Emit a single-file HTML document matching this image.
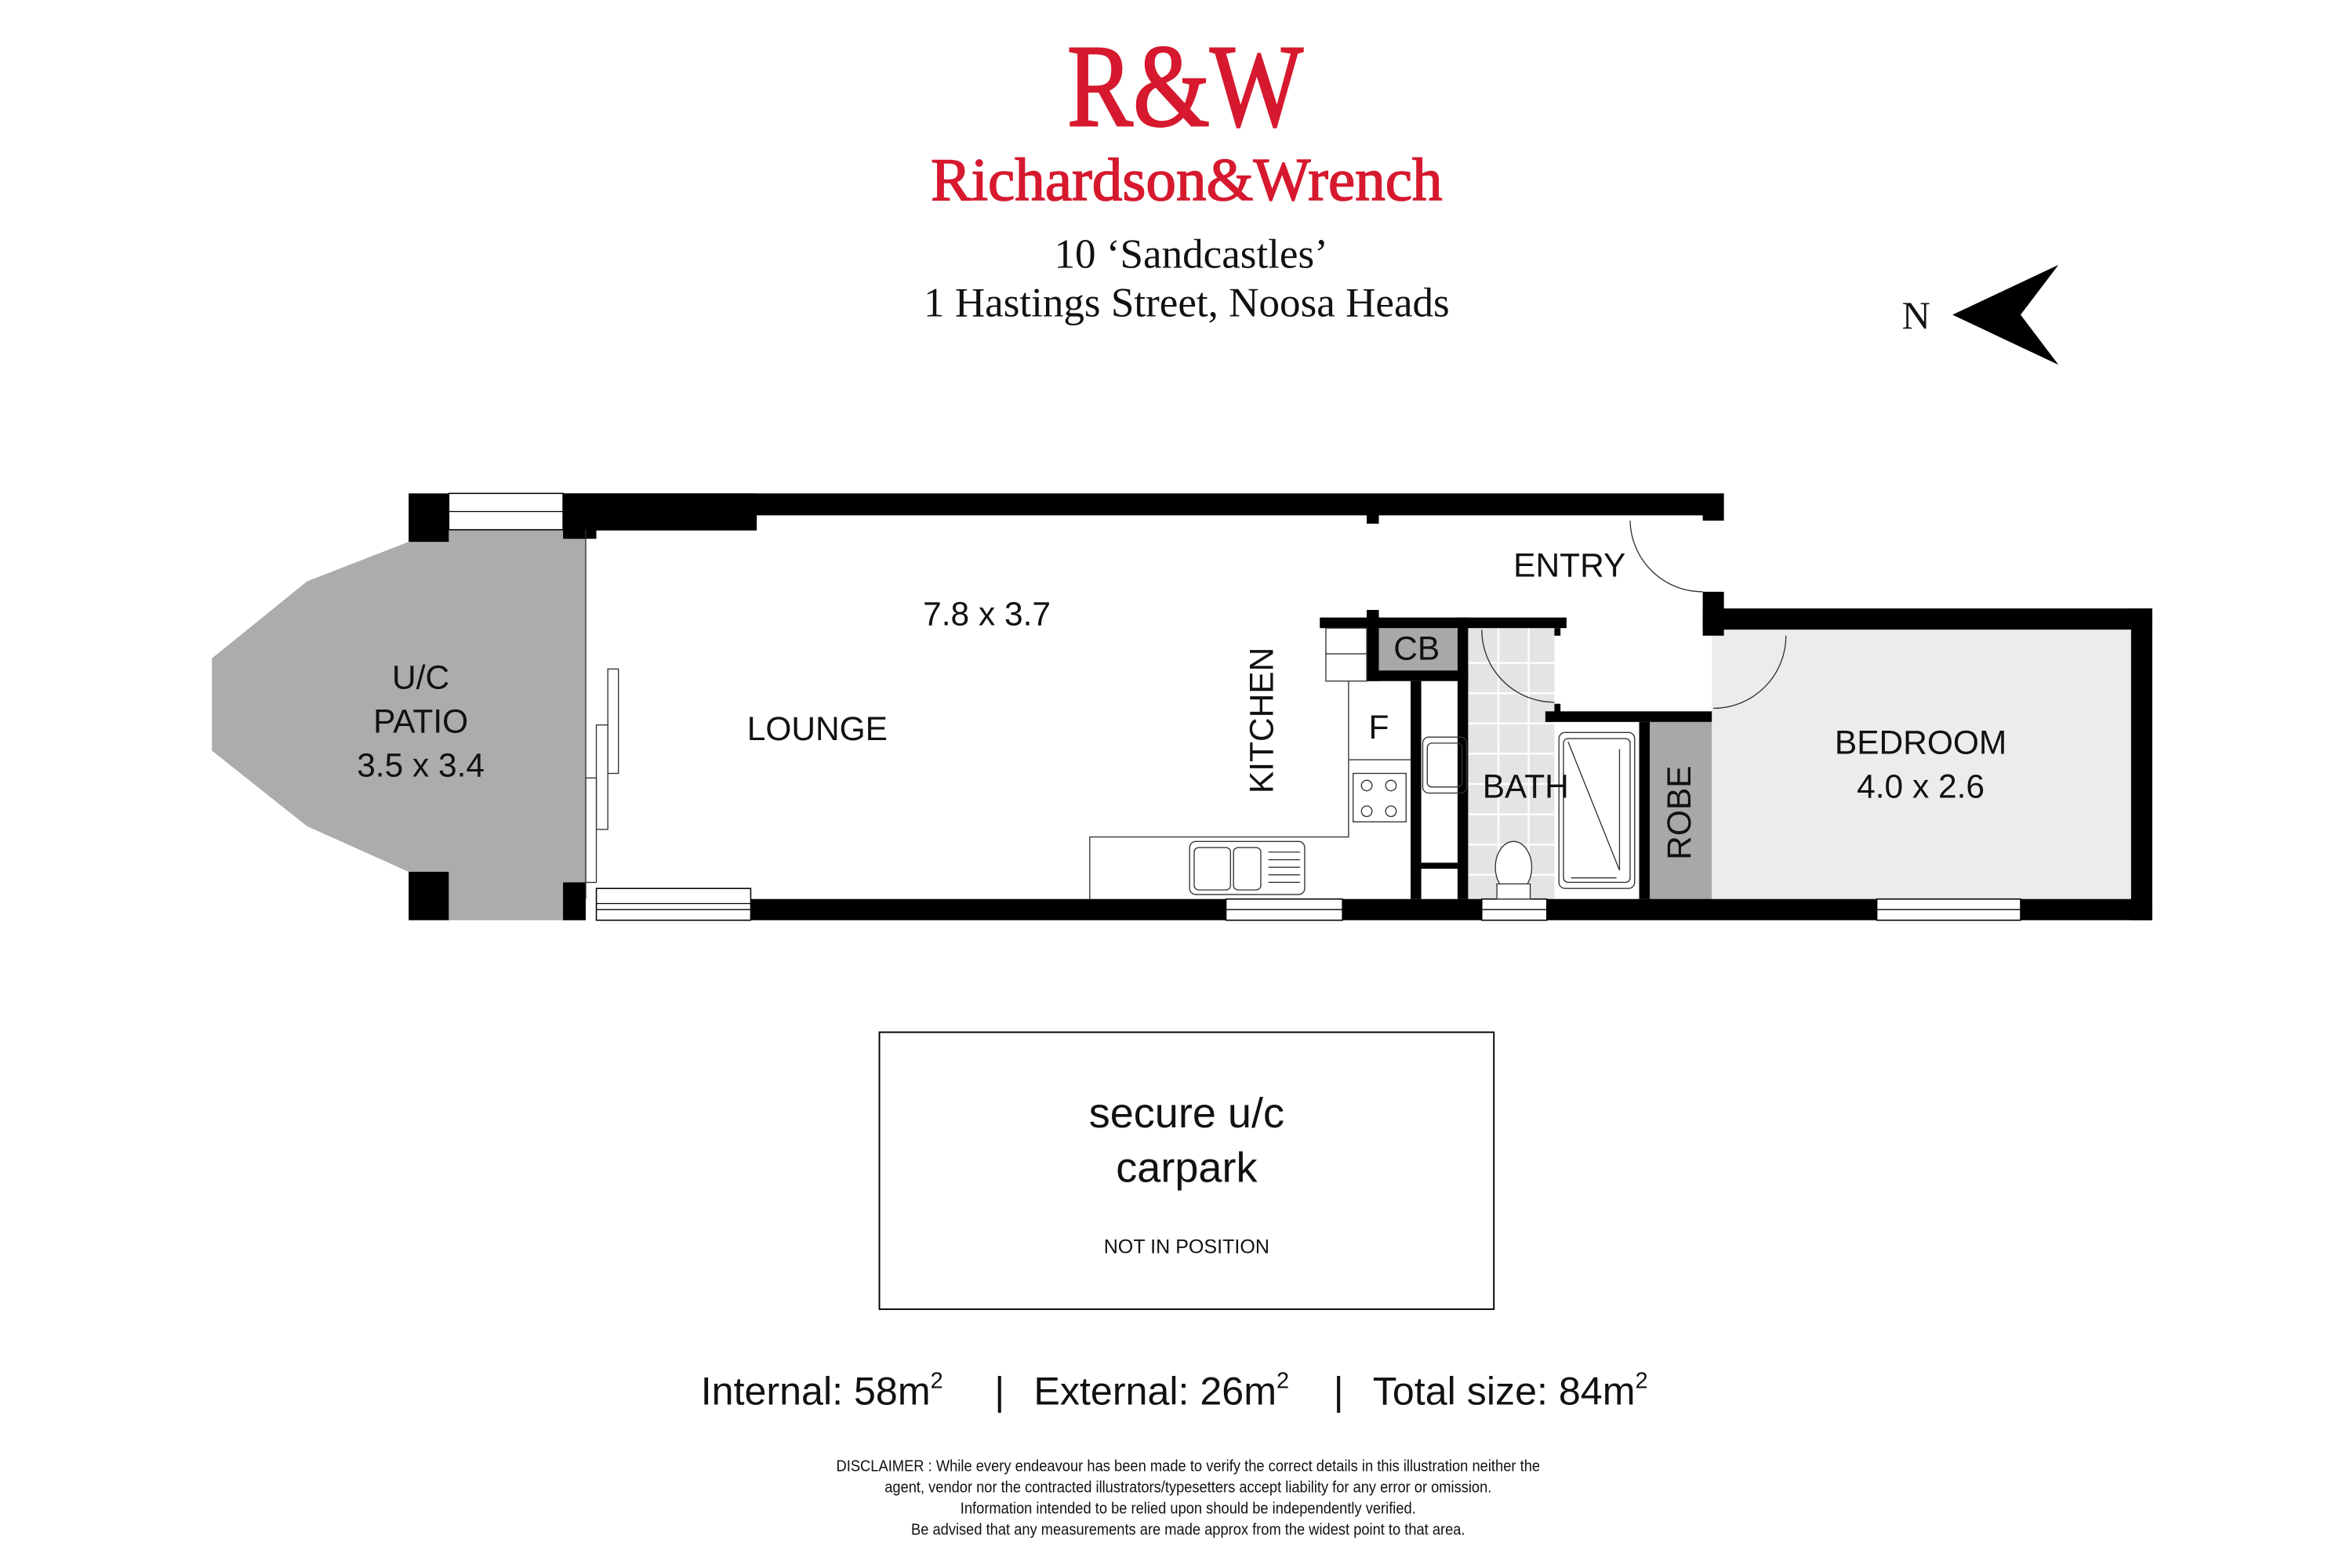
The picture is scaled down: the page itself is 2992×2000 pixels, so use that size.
<!DOCTYPE html>
<html><head><meta charset="utf-8"><style>html,body{margin:0;padding:0;background:#fff}svg{display:block}</style></head>
<body>
<svg width="2992" height="2000" viewBox="0 0 1550 1036" preserveAspectRatio="none" xmlns="http://www.w3.org/2000/svg">
<rect width="1550" height="1036" fill="#fff"/>
<!-- header -->
<text x="783" y="83" font-family="Liberation Serif, serif" font-size="78" fill="#d6192e" stroke="#d6192e" stroke-width="1.2" text-anchor="middle" textLength="156" lengthAdjust="spacingAndGlyphs">R&amp;W</text>
<text x="784" y="132" font-family="Liberation Serif, serif" font-size="40" fill="#d6192e" stroke="#d6192e" stroke-width="0.8" text-anchor="middle" textLength="338" lengthAdjust="spacingAndGlyphs">Richardson&amp;Wrench</text>
<text x="787" y="177" font-family="Liberation Serif, serif" font-size="27.5" fill="#111" text-anchor="middle">10 ‘Sandcastles’</text>
<text x="784" y="209" font-family="Liberation Serif, serif" font-size="27.5" fill="#111" text-anchor="middle">1 Hastings Street, Noosa Heads</text>
<!-- north -->
<text x="1266" y="217" font-family="Liberation Serif, serif" font-size="26" fill="#111" text-anchor="middle">N</text>
<polygon points="1290,208 1360,175 1335,208 1360,241" fill="#000"/>

<!-- floor fills -->
<polygon points="270,358 296,350 387,350 387,608 296,608 290,576 270,576 203,546 140,496 140,435 203,384" fill="#acacac"/>
<rect x="1131" y="416" width="278" height="179" fill="#ececec"/>
<rect x="970" y="415" width="57" height="180" fill="#e4e4e4"/>
<g stroke="#fff" stroke-width="1.2">
<line x1="970" y1="438" x2="1027" y2="438"/><line x1="970" y1="458" x2="1027" y2="458"/><line x1="970" y1="478" x2="1027" y2="478"/><line x1="970" y1="498" x2="1027" y2="498"/><line x1="970" y1="518" x2="1027" y2="518"/><line x1="970" y1="538" x2="1027" y2="538"/><line x1="970" y1="558" x2="1027" y2="558"/><line x1="970" y1="578" x2="1027" y2="578"/>
<line x1="990" y1="415" x2="990" y2="595"/><line x1="1010" y1="415" x2="1010" y2="595"/>
</g>
<rect x="911" y="415" width="52" height="28" fill="#a8a8a8"/>
<rect x="1090" y="477" width="41" height="118" fill="#a8a8a8"/>

<!-- walls -->
<g fill="#000">
<rect x="270" y="326" width="26.5" height="32"/>
<rect x="372" y="326" width="128" height="24.5"/>
<rect x="372" y="350" width="22" height="6"/>
<rect x="372" y="326" width="767" height="14.5"/>
<rect x="903" y="340" width="8" height="6"/>
<rect x="1125" y="340" width="14" height="4"/>
<rect x="1125" y="391" width="14" height="29"/>
<rect x="1125" y="402" width="297" height="14"/>
<rect x="1408" y="402" width="14" height="206"/>
<rect x="270" y="576" width="26.5" height="32"/>
<rect x="372" y="583" width="15" height="25"/>
<rect x="496" y="594" width="314" height="14"/>
<rect x="887" y="594" width="92" height="14"/>
<rect x="1022" y="594" width="218" height="14"/>
<rect x="1335" y="594" width="87" height="14"/>
<rect x="872" y="408" width="163" height="7"/>
<rect x="903" y="403" width="8" height="47"/>
<rect x="903" y="443" width="67" height="7"/>
<rect x="932" y="450" width="7" height="144"/>
<rect x="963" y="408" width="7" height="186"/>
<rect x="939" y="570" width="24" height="4"/>
<rect x="1027" y="415" width="4" height="5"/>
<rect x="1021" y="470" width="110" height="7"/>
<rect x="1027" y="465" width="4" height="6"/>
<rect x="1083" y="477" width="7" height="117"/>
</g>

<!-- windows -->
<g fill="#fff" stroke="#000" stroke-width="0.8">
<rect x="296.5" y="326" width="75.5" height="24"/>
<rect x="394" y="587" width="102" height="21"/>
<rect x="810" y="594" width="77" height="14"/>
<rect x="979" y="594" width="43" height="14"/>
<rect x="1240" y="594" width="95" height="14"/>
</g>
<g stroke="#000" stroke-width="0.7">
<line x1="296.5" y1="338" x2="372" y2="338"/>
<line x1="394" y1="597" x2="496" y2="597"/><line x1="394" y1="601" x2="496" y2="601"/>
<line x1="810" y1="601" x2="887" y2="601"/><line x1="979" y1="601" x2="1022" y2="601"/><line x1="1240" y1="601" x2="1335" y2="601"/>
</g>

<!-- fixtures -->
<g fill="none" stroke="#333" stroke-width="0.7">
<line x1="387" y1="350" x2="387" y2="594"/>
<rect x="401.6" y="442" width="7" height="69" fill="#fff"/>
<rect x="394" y="479" width="7.6" height="69" fill="#fff"/>
<rect x="387" y="514" width="7" height="69" fill="#fff"/>
<polyline points="720,594 720,553 891,553 891,450"/>
<rect x="876" y="415" width="27" height="35"/><line x1="876" y1="432" x2="903" y2="432"/>
<line x1="891" y1="502" x2="932" y2="502"/>
<rect x="894" y="511" width="35" height="32"/>
<circle cx="903" cy="519" r="3.5"/><circle cx="919" cy="519" r="3.5"/><circle cx="903" cy="536" r="3.5"/><circle cx="919" cy="536" r="3.5"/>
<rect x="786" y="556" width="76" height="35" rx="4"/>
<rect x="789" y="560" width="24" height="28" rx="3"/><rect x="815" y="560" width="18" height="28" rx="3"/>
<line x1="838" y1="563" x2="859" y2="563"/><line x1="838" y1="568" x2="859" y2="568"/><line x1="838" y1="573" x2="859" y2="573"/><line x1="838" y1="578" x2="859" y2="578"/><line x1="838" y1="583" x2="859" y2="583"/>
<rect x="940" y="487" width="29" height="37" rx="4"/><rect x="943" y="491" width="23" height="29" rx="3"/>
<rect x="1030" y="484" width="50" height="103" rx="4"/><rect x="1033" y="488" width="44" height="95" rx="3"/>
<line x1="1036" y1="490" x2="1070" y2="575"/><line x1="1070" y1="495" x2="1070" y2="575"/><line x1="1038" y1="580" x2="1068" y2="580"/>
<ellipse cx="1000" cy="573" rx="12" ry="17" fill="#fff"/><rect x="989" y="584" width="22" height="10" fill="#fff"/>
<path d="M1077,344 A48,48 0 0 0 1125,391"/>
<path d="M979,416 A48,48 0 0 0 1027,464"/>
<path d="M1180,420 A48,48 0 0 1 1132,468"/>
</g>

<!-- room labels -->
<g font-family="Liberation Sans, sans-serif" font-size="22" fill="#111" text-anchor="middle">
<text x="652" y="413">7.8 x 3.7</text>
<text x="540" y="489">LOUNGE</text>
<text x="278" y="455">U/C</text>
<text x="278" y="484">PATIO</text>
<text x="278" y="513">3.5 x 3.4</text>
<text transform="translate(841,476) rotate(-90)">KITCHEN</text>
<text x="911" y="488">F</text>
<text x="936" y="436">CB</text>
<text x="1037" y="381">ENTRY</text>
<text x="1008" y="527">BATH</text>
<text transform="translate(1117,537) rotate(-90)">ROBE</text>
<text x="1269" y="498">BEDROOM</text>
<text x="1269" y="527">4.0 x 2.6</text>
</g>

<!-- carpark -->
<rect x="581" y="682" width="406" height="183" fill="none" stroke="#000" stroke-width="1"/>
<g font-family="Liberation Sans, sans-serif" fill="#111" text-anchor="middle">
<text x="784" y="745" font-size="28">secure u/c</text>
<text x="784" y="781" font-size="28">carpark</text>
<text x="784" y="828" font-size="13">NOT IN POSITION</text>
</g>

<!-- areas -->
<g font-family="Liberation Sans, sans-serif" font-size="26" fill="#111" xml:space="preserve">
<text x="463" y="928">Internal:  58m<tspan dy="-11" font-size="15">2</tspan></text>
<text x="657" y="928">|</text>
<text x="683" y="928">External:  26m<tspan dy="-11" font-size="15">2</tspan></text>
<text x="881" y="928">|</text>
<text x="907" y="928">Total size:  84m<tspan dy="-11" font-size="15">2</tspan></text>
</g>

<!-- disclaimer -->
<g font-family="Liberation Sans, sans-serif" font-size="10.5" fill="#111" text-anchor="middle">
<text x="785" y="972" textLength="465" lengthAdjust="spacingAndGlyphs">DISCLAIMER : While every endeavour has been made to verify the correct details in this illustration neither the</text>
<text x="785" y="986" textLength="401" lengthAdjust="spacingAndGlyphs">agent, vendor nor the contracted illustrators/typesetters accept liability for any error or omission.</text>
<text x="785" y="1000" textLength="301" lengthAdjust="spacingAndGlyphs">Information intended to be relied upon should be independently verified.</text>
<text x="785" y="1014" textLength="366" lengthAdjust="spacingAndGlyphs">Be advised that any measurements are made approx from the widest point to that area.</text>
</g>
</svg>
</body></html>
